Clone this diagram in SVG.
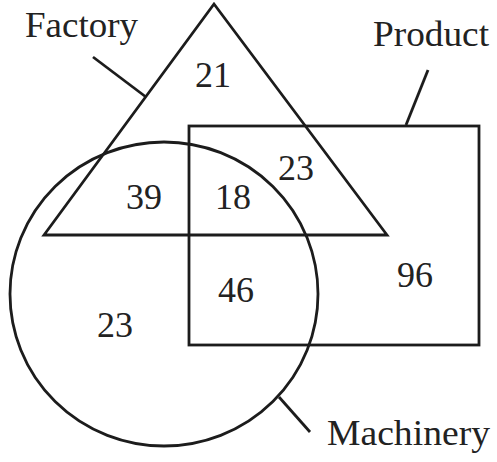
<svg xmlns="http://www.w3.org/2000/svg" width="497" height="462" viewBox="0 0 497 462">
<style>
.s{fill:none;stroke:#1c1c1c;stroke-width:2.8;stroke-linejoin:miter}
.t{font-family:"Liberation Serif",serif;font-size:36px;fill:#222}
.n{text-anchor:middle}
</style>
<rect width="497" height="462" fill="#fff"/>
<g id="factory"><polygon class="s" points="214,4 44,235 387,235"/></g>
<g id="product"><rect class="s" x="189" y="126" width="290" height="219"/></g>
<g id="machinery"><ellipse class="s" cx="164" cy="294" rx="154" ry="152"/></g>
<g id="connectors">
<line class="s" x1="93" y1="57" x2="146" y2="97"/>
<line class="s" x1="428" y1="70" x2="406" y2="125"/>
<line class="s" x1="279" y1="397" x2="310" y2="432"/>
</g>
<g id="labels">
<text class="t" x="25" y="37" textLength="113" lengthAdjust="spacingAndGlyphs">Factory</text>
<text class="t" x="373" y="46" textLength="116" lengthAdjust="spacingAndGlyphs">Product</text>
<text class="t" x="327" y="445" textLength="163" lengthAdjust="spacingAndGlyphs">Machinery</text>
</g>
<g id="values">
<text class="t n" x="213" y="87">21</text>
<text class="t n" x="144" y="209">39</text>
<text class="t n" x="233" y="209">18</text>
<text class="t n" x="296" y="180">23</text>
<text class="t n" x="236" y="302">46</text>
<text class="t n" x="415" y="287">96</text>
<text class="t n" x="115" y="337">23</text>
</g>
</svg>
